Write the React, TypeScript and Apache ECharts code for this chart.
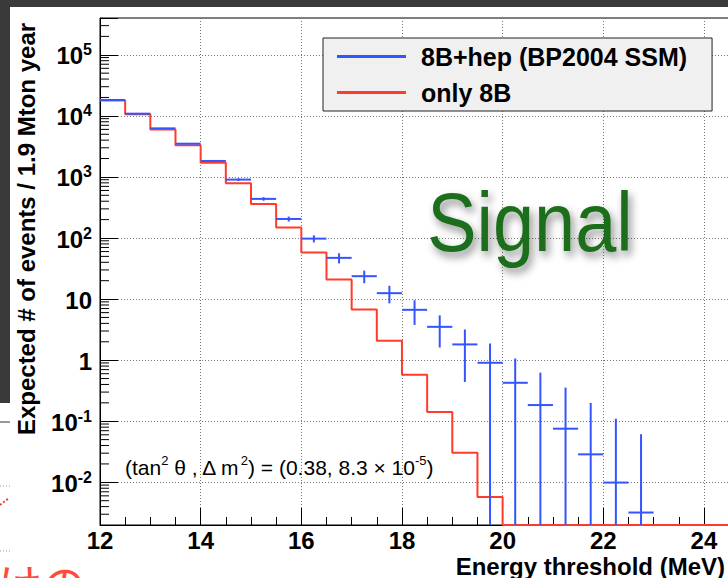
import React, { useEffect, useRef } from 'react';
import * as echarts from 'echarts';

// ---- data ----
const binLow = [12, 12.5, 13, 13.5, 14, 14.5, 15, 15.5, 16, 16.5, 17, 17.5, 18, 18.5, 19, 19.5, 20, 20.5, 21, 21.5, 22, 22.5, 23, 23.5, 24, 24.5];
const histEnd = 25;
const binWidth = 0.5;
const only8B = [17800, 10600, 6000, 3290, 1714, 790, 361, 148, 57.8, 20.9, 6.74, 2.08, 0.577, 0.141, 0.0306, 0.00574, 0, 0, 0, 0, 0, 0, 0, 0, 0, 0];
const withHep = [18200, 10850, 6240, 3500, 1825, 904, 437, 205, 97.7, 47.3, 23.7, 12.5, 6.67, 3.51, 1.81, 0.906, 0.426, 0.184, 0.0755, 0.0287, 0.0099, 0.0032, 0, 0, 0, 0];
const withHepErr = [190, 150, 110, 85, 60, 45, 30, 19, 13, 9, 5.5, 4, 2.9, 1.9, 1.37, 0.97, 0.64, 0.44, 0.28, 0.17, 0.1, 0.058, 0, 0, 0, 0];
const seriesNames = ['8B+hep (BP2004 SSM)', 'only 8B'];
const xTitle = 'Energy threshold (MeV)';
const yTitle = 'Expected # of events / 1.9 Mton year';
const minorMultipliers = [2, 3, 4, 5, 6, 7, 8, 9];
const decades = [-3, -2, -1, 0, 1, 2, 3, 4, 5];

const Y_MIN = 0.002;
const Y_MAX = 4e5;
const X_MIN = 12;
const X_MAX = 26;
const BLUE = '#3355ff';
const RED = '#ff3b2b';
const FONT = '"Liberation Sans", Arial, Helvetica, sans-serif';

const minorTickValues = decades
  .flatMap((d) => minorMultipliers.map((m) => m * Math.pow(10, d)))
  .filter((v) => v > Y_MIN * 1.0001 && v < Y_MAX * 0.9999);

export default function App() {
  const ref = useRef<HTMLDivElement>(null);
  useEffect(() => {
    document.body.style.margin = '0';
    if (!ref.current) return;
    const chart = echarts.init(ref.current, null, { renderer: 'svg' });

    const redData: number[][] = binLow.map((x, i) => [x, Math.max(only8B[i], Y_MIN)]);
    redData.push([histEnd, Math.max(only8B[only8B.length - 1], Y_MIN)]);
    const blueData = binLow
      .map((x, i) => [x, withHep[i], withHepErr[i]])
      .filter((d) => d[1] > 0);

    const option: any = {
      animation: false,
      backgroundColor: '#ffffff',
      grid: {
        left: 100, top: 18, width: 704.6, height: 507,
        containLabel: false, outerBoundsMode: 'none',
        show: true, backgroundColor: '#fff', borderColor: '#000', borderWidth: 1,
      },
      legend: {
        data: [
          { name: seriesNames[0], icon: 'rect' },
          { name: seriesNames[1], icon: 'rect' },
        ],
        left: 323, top: 38, orient: 'vertical',
        itemWidth: 69, itemHeight: 3, itemGap: 11,
        backgroundColor: '#f0f0f0', borderColor: '#222', borderWidth: 1,
        padding: [6, 25, 6, 14],
        selectedMode: false,
        textStyle: { fontSize: 25, fontWeight: 'bold', color: '#000', fontFamily: FONT, padding: [0, 0, 0, 10] },
      },
      xAxis: {
        type: 'value', min: X_MIN, max: X_MAX, interval: 2,
        axisLine: { show: true, lineStyle: { color: '#000', width: 1 } },
        axisTick: { show: true, inside: true, length: 17, lineStyle: { color: '#000' } },
        minorTick: { show: true, splitNumber: 4, length: 8, lineStyle: { color: '#000' } },
        axisLabel: { fontSize: 24, fontWeight: 'bold', color: '#000', fontFamily: FONT, margin: 6, lineHeight: 18, showMaxLabel: false },
        splitLine: { show: true, lineStyle: { color: '#777', width: 1, type: [1, 2] } },
      },
      yAxis: {
        type: 'log', logBase: 10, min: Y_MIN, max: Y_MAX,
        axisLine: { show: true, lineStyle: { color: '#000', width: 1 } },
        axisTick: { show: true, inside: true, length: 18, lineStyle: { color: '#000' } },
        axisLabel: {
          margin: 8,
          formatter: (v: number) => {
            const l = Math.log10(v);
            const e = Math.round(l);
            if (Math.abs(l - e) > 1e-6) return '';
            if (e === 0) return '{b|1}';
            if (e === 1) return '{b|10}';
            return '{b|10}{s|' + e + '}';
          },
          rich: {
            b: { fontSize: 24, fontWeight: 'bold', color: '#000', fontFamily: FONT, verticalAlign: 'bottom', lineHeight: 26 },
            s: { fontSize: 16, fontWeight: 'bold', color: '#000', fontFamily: FONT, verticalAlign: 'top', lineHeight: 16 },
          },
        },
        splitLine: { show: true, lineStyle: { color: '#777', width: 1, type: [1, 2] } },
      },
      series: [
        {
          name: seriesNames[1], type: 'line', data: redData, step: 'end',
          symbol: 'none', showSymbol: false, color: RED,
          itemStyle: { color: RED },
          lineStyle: { color: RED, width: 2 }, z: 3, clip: true,
        },
        {
          name: seriesNames[0], type: 'custom', data: blueData, color: BLUE,
          itemStyle: { color: BLUE }, encode: { x: 0, y: 1 }, z: 4, clip: true,
          renderItem: (params: any, api: any) => {
            const x0 = api.value(0);
            const v = api.value(1);
            const e = api.value(2);
            const pL = api.coord([x0, v]);
            const pR = api.coord([x0 + binWidth, v]);
            const xc = x0 + binWidth / 2;
            const pT = api.coord([xc, Math.min(v + e, Y_MAX)]);
            const pB = api.coord([xc, Math.max(v - e, Y_MIN)]);
            return {
              type: 'group',
              children: [
                { type: 'line', shape: { x1: pL[0], y1: pL[1], x2: pR[0], y2: pR[1] }, style: { stroke: BLUE, lineWidth: 2 } },
                { type: 'line', shape: { x1: pT[0], y1: pT[1], x2: pB[0], y2: pB[1] }, style: { stroke: BLUE, lineWidth: 2 } },
              ],
            };
          },
        },
        {
          name: '_minorY', type: 'custom', silent: true, z: 5,
          data: minorTickValues.map((v) => [X_MIN, v]), encode: { x: 0, y: 1 },
          renderItem: (params: any, api: any) => {
            const p = api.coord([api.value(0), api.value(1)]);
            return { type: 'line', shape: { x1: p[0], y1: p[1], x2: p[0] + 9, y2: p[1] }, style: { stroke: '#000', lineWidth: 1 } };
          },
        },
      ],
      graphic: [
        { type: 'rect', shape: { x: 0, y: 0, width: 728, height: 7 }, style: { fill: '#3a3a3a' }, z: 10 },
        { type: 'rect', shape: { x: 0, y: 0, width: 10, height: 403 }, style: { fill: '#3a3a3a' }, z: 10 },
        { type: 'line', shape: { x1: 0, y1: 422, x2: 10, y2: 422 }, style: { stroke: '#333', lineWidth: 1 } },
        { type: 'line', shape: { x1: 0, y1: 486, x2: 10, y2: 486 }, style: { stroke: '#999', lineWidth: 1, lineDash: [1, 2] } },
        { type: 'line', shape: { x1: 0, y1: 551, x2: 10, y2: 551 }, style: { stroke: '#999', lineWidth: 1, lineDash: [1, 2] } },
        { type: 'line', shape: { x1: 0, y1: 505, x2: 9, y2: 498 }, style: { stroke: RED, lineWidth: 2, lineDash: [2, 2] } },
        {
          type: 'text', x: 26, y: 229, rotation: Math.PI / 2, z: 11,
          style: { text: yTitle, fontSize: 24, fontWeight: 'bold', fontFamily: FONT, fill: '#000', align: 'center', verticalAlign: 'middle' },
        },
        {
          type: 'text', x: 725, y: 566, z: 11,
          style: { text: xTitle, fontSize: 24, lineHeight: 18, fontWeight: 'bold', fontFamily: FONT, fill: '#000', align: 'right', verticalAlign: 'middle' },
        },
        {
          type: 'text', x: 125, y: 466, z: 11,
          style: {
            text: '{n|(tan}{s|2}{n| θ , Δ m}{s|2}{n|) = (0.38, 8.3 × 10}{s|-5}{n|)}',
            align: 'left', verticalAlign: 'middle',
            rich: {
              n: { fontSize: 21, fontFamily: FONT, fill: '#000', verticalAlign: 'bottom', lineHeight: 24 },
              s: { fontSize: 13, fontFamily: FONT, fill: '#000', verticalAlign: 'top', lineHeight: 13 },
            },
          },
        },
        {
          type: 'text', x: 530, y: 222, z: 11,
          style: {
            text: 'Signal', fontSize: 84, fontFamily: FONT, fill: '#1c6e1c', align: 'center', verticalAlign: 'middle',
            textShadowColor: 'rgba(0,0,0,0.45)', textShadowBlur: 8, textShadowOffsetX: 3, textShadowOffsetY: 5,
          },
          scaleX: 0.88,
        },
        {
          type: 'text', x: -2, y: 561, z: 11,
          style: { text: 'けの', fontSize: 44, fontFamily: '"Noto Sans CJK JP", sans-serif', fill: '#ff4a3a', align: 'left', verticalAlign: 'top', letterSpacing: 10 },
        },
      ],
    };
    chart.setOption(option);
    return () => chart.dispose();
  }, []);
  return <div ref={ref} style={{ width: 728, height: 578 }} />;
}
